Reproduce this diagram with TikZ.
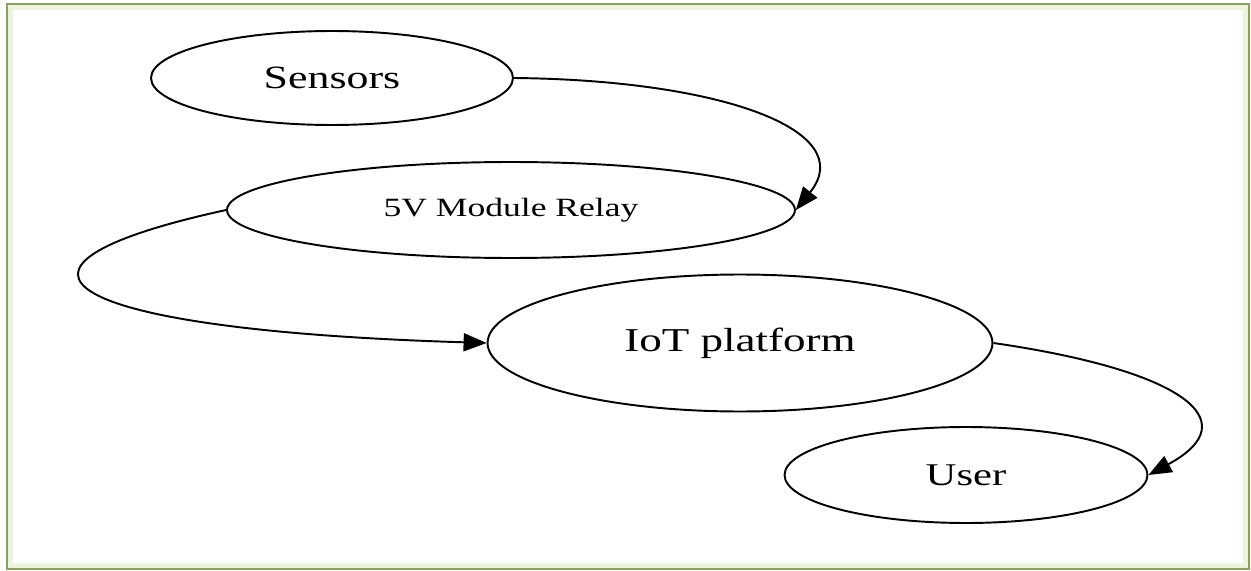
\documentclass[tikz,border=0pt]{standalone}
\usepackage{fontspec}
\setmainfont{Liberation Serif}[FakeStretch=1.35]
\usetikzlibrary{shapes.geometric,arrows.meta}
\definecolor{frameolive}{RGB}{140,160,100}
\definecolor{framelight}{RGB}{236,244,222}
\begin{document}
\begin{tikzpicture}[x=0.02cm,y=-0.02cm]
  \tikzstyle{blob}=[ellipse, draw, line width=1.1pt, inner sep=0pt]
  \tikzstyle{flow}=[line width=1.1pt, -{Triangle[length=0.46cm,width=0.36cm]}]
  \useasboundingbox (0,0) rectangle (1251,571);
  % Frame
  \draw[framelight, line width=3pt] (10,7) rectangle (1246,566);
  \draw[frameolive, line width=1pt] (7,4) rectangle (1249,569);

  % Node definitions
  \node[blob, minimum width=7.24cm, minimum height=1.88cm, font=\fontsize{18.5}{22}\selectfont] (sensors) at (332,78) {Sensors};
  \node[blob, minimum width=11.36cm, minimum height=1.92cm, font=\fontsize{15}{18}\selectfont] (relay) at (511,210) {5V Module Relay};
  \node[blob, minimum width=10.1cm, minimum height=2.74cm, font=\fontsize{19}{23}\selectfont] (iot) at (740,343) {IoT platform};
  \node[blob, minimum width=7.26cm, minimum height=1.92cm, font=\fontsize{18}{22}\selectfont] (user) at (966,475) {User};

  % Edge definitions
  \draw[flow] (sensors.east) .. controls (720,80) and (860,130) .. (relay.east);
  \draw[flow] (relay.west) .. controls (-40,268) and (60,330) .. (iot.west);
  \draw[flow] (iot.east) .. controls (1180,370) and (1250,420) .. (user.east);
\end{tikzpicture}
\end{document}
